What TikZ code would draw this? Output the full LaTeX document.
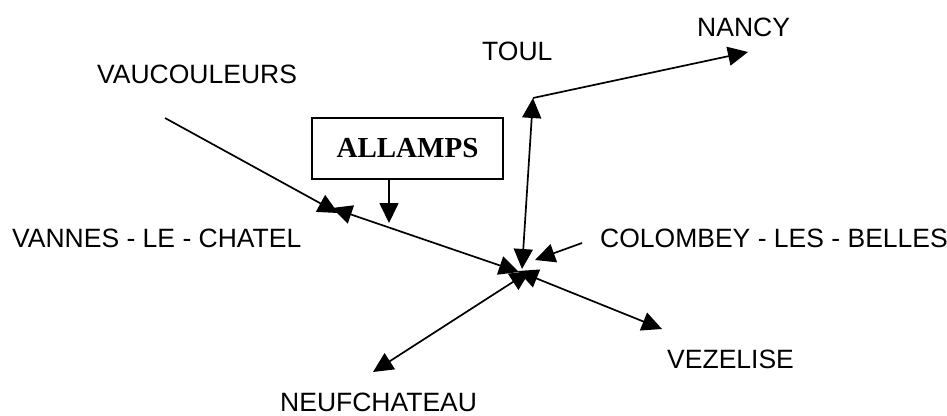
\documentclass[tikz,border=0pt]{standalone}
\usepackage{fontspec}
\setmainfont{Liberation Sans}
\newfontfamily\boxfont{Liberation Serif}
\usetikzlibrary{arrows.meta}
\begin{document}
\begin{tikzpicture}[x=1pt,y=-1pt,
  lbl/.style={inner sep=0pt,font=\fontsize{26.5}{30}\selectfont,anchor=base west},
  link/.style={line width=1.7pt},
  tip/.style={-{Triangle[length=20pt,width=19pt]}},
  tips/.style={{Triangle[length=20pt,width=19pt]}-{Triangle[length=20pt,width=19pt]}},
  boxst/.style={draw,line width=1.6pt,minimum width=191pt,minimum height=61pt,inner sep=0pt,
    font=\boxfont\bfseries\fontsize{29}{32}\selectfont}]
\useasboundingbox (0,0) rectangle (947,415);
% labels
\node[lbl] (vau) at (97,83) {VAUCOULEURS};
\node[lbl] (van) at (12,247) {VANNES - LE - CHATEL};
\node[lbl] (col) at (600,247) {COLOMBEY - LES - BELLES};
\node[lbl] (vez) at (667,368) {VEZELISE};
\node[lbl] (neu) at (280,411) {NEUFCHATEAU};
\node[lbl] (tou) at (482,60) {TOUL};
\node[lbl] (nan) at (697,36) {NANCY};
\node[boxst] (all) at (407.5,148.5) {ALLAMPS};
% coordinates
\coordinate (v1) at (165,118);
\coordinate (v2) at (338,213);
\coordinate (w1) at (332,208);
\coordinate (w2) at (519,272);
\coordinate (a1) at (389,179);
\coordinate (a2) at (389,223);
\coordinate (t1) at (533,98);
\coordinate (t2) at (522,269);
\coordinate (n1) at (748,52);
\coordinate (c1) at (582,243);
\coordinate (c2) at (535,260);
\coordinate (z1) at (518,271);
\coordinate (z2) at (662,329);
\coordinate (f1) at (530,271);
\coordinate (f2) at (373,372);
% connectors
\draw[link,tip] (v1) -- (v2);
\draw[link,tips] (w1) -- (w2);
\draw[link,tip] (a1) -- (a2);
\draw[link,tips] (t1) -- (t2);
\draw[link,tip] (t1) -- (n1);
\draw[link,tip] (c1) -- (c2);
\draw[link,tips] (z1) -- (z2);
\draw[link,tips] (f1) -- (f2);
\end{tikzpicture}
\end{document}
